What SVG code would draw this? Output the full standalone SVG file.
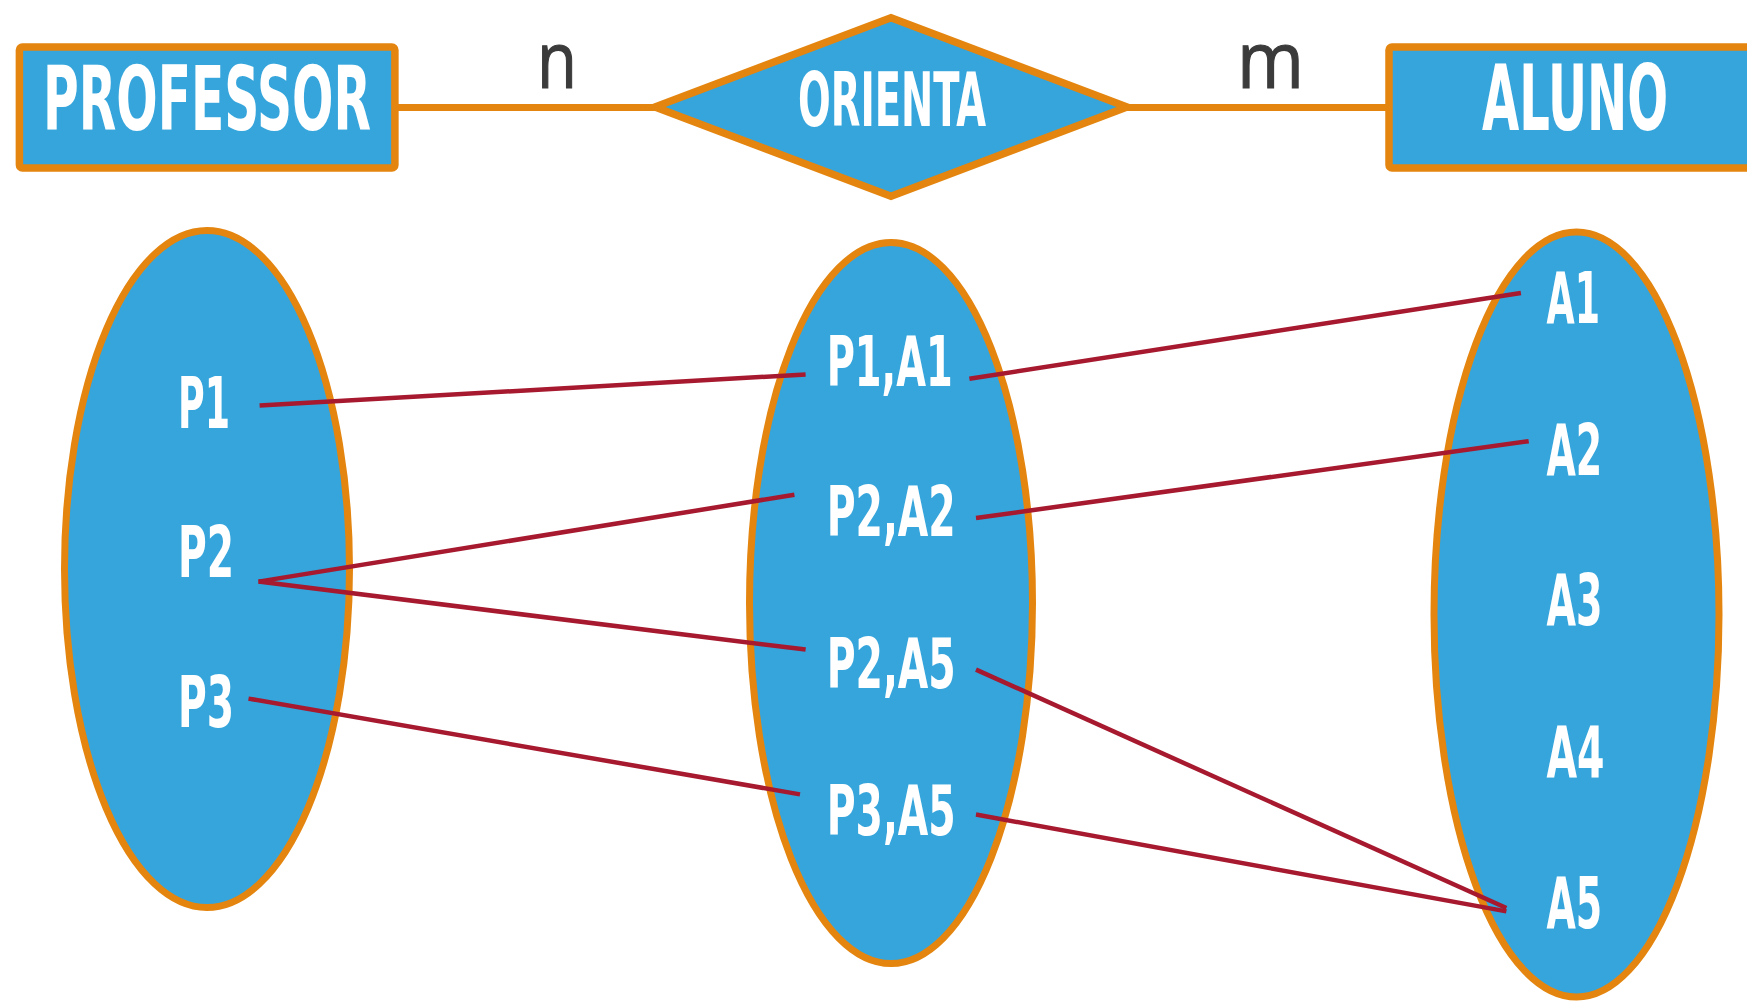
<svg xmlns="http://www.w3.org/2000/svg" width="1747" height="1003" viewBox="0 0 1747 1003">
<style>
.ent{fill:#35a5dc;stroke:#e4850f;stroke-width:7.5}
.set{fill:#35a5dc;stroke:#e4850f;stroke-width:7}
.rel{stroke:#e4850f;stroke-width:7;fill:none}
.map{stroke:#a6192e;stroke-width:4.5;fill:none}
.lbl{fill:#ffffff;font-family:"DejaVu Sans Condensed","DejaVu Sans","Liberation Sans",sans-serif;font-weight:bold}
.card{fill:#3b3b3b;stroke:#3b3b3b;stroke-width:1.2;font-family:"Open Sans","Liberation Sans",sans-serif}
</style>
<rect width="1747" height="1003" fill="#ffffff"/>
<g id="connectors">
<line class="rel" x1="398" y1="107.5" x2="656" y2="107.5"/>
<line class="rel" x1="1126" y1="107.5" x2="1390" y2="107.5"/>
</g>
<g id="card-n"><text class="card" x="537" y="88.3" font-size="78" textLength="40" lengthAdjust="spacingAndGlyphs">n</text></g>
<g id="card-m"><text class="card" x="1237" y="88.3" font-size="78" textLength="67" lengthAdjust="spacingAndGlyphs">m</text></g>
<g id="professor">
<rect class="ent" x="19.4" y="47" width="375.5" height="121" rx="3"/>
<text class="lbl" x="43" y="130" font-size="89" textLength="328" lengthAdjust="spacingAndGlyphs">PROFESSOR</text>
</g>
<g id="orienta">
<polygon class="ent" stroke-width="7" points="655,107 891,17.7 1127,107 891,196.3"/>
<text class="lbl" x="798" y="126" font-size="74" textLength="188" lengthAdjust="spacingAndGlyphs">ORIENTA</text>
</g>
<g id="aluno">
<rect class="ent" x="1389" y="47" width="420" height="121" rx="3"/>
<text class="lbl" x="1482" y="130" font-size="90" textLength="186" lengthAdjust="spacingAndGlyphs">ALUNO</text>
</g>
<g id="set-professor">
<ellipse class="set" cx="207" cy="569" rx="142.5" ry="338.5"/>
</g>
<g id="set-orienta">
<ellipse class="set" cx="891" cy="603" rx="141.5" ry="360.5"/>
</g>
<g id="set-aluno">
<ellipse class="set" cx="1576.5" cy="614.5" rx="142.5" ry="382.5"/>
</g>
<g id="mapping-connectors">
<line class="map" x1="259.6" y1="405.6" x2="805.6" y2="374.4"/>
<line class="map" x1="969.4" y1="378.8" x2="1520.9" y2="293"/>
<line class="map" x1="258.5" y1="581.6" x2="794.4" y2="494.7"/>
<line class="map" x1="258.5" y1="581.6" x2="805.6" y2="649.6"/>
<line class="map" x1="976" y1="518" x2="1528.7" y2="441.2"/>
<line class="map" x1="976" y1="669.6" x2="1506.4" y2="908"/>
<line class="map" x1="248.5" y1="698.6" x2="800" y2="794.4"/>
<line class="map" x1="976" y1="814.5" x2="1506.4" y2="911.4"/>
</g>
<g id="p1"><text class="lbl" x="178" y="427.5" font-size="72" textLength="52" lengthAdjust="spacingAndGlyphs">P1</text></g>
<g id="p2"><text class="lbl" x="178" y="576.5" font-size="72" textLength="56" lengthAdjust="spacingAndGlyphs">P2</text></g>
<g id="p3"><text class="lbl" x="178" y="726.5" font-size="72" textLength="56" lengthAdjust="spacingAndGlyphs">P3</text></g>
<g id="p1a1"><text class="lbl" x="826.7" y="385.5" font-size="70" textLength="126" lengthAdjust="spacingAndGlyphs">P1,A1</text></g>
<g id="p2a2"><text class="lbl" x="826.7" y="536" font-size="70" textLength="129" lengthAdjust="spacingAndGlyphs">P2,A2</text></g>
<g id="p2a5"><text class="lbl" x="826.7" y="687.5" font-size="70" textLength="129" lengthAdjust="spacingAndGlyphs">P2,A5</text></g>
<g id="p3a5"><text class="lbl" x="826.7" y="835" font-size="70" textLength="129" lengthAdjust="spacingAndGlyphs">P3,A5</text></g>
<g id="a1"><text class="lbl" x="1546.5" y="323" font-size="72" textLength="53.5" lengthAdjust="spacingAndGlyphs">A1</text></g>
<g id="a2"><text class="lbl" x="1546.5" y="474.5" font-size="72" textLength="55.7" lengthAdjust="spacingAndGlyphs">A2</text></g>
<g id="a3"><text class="lbl" x="1546.5" y="625" font-size="72" textLength="56" lengthAdjust="spacingAndGlyphs">A3</text></g>
<g id="a4"><text class="lbl" x="1546.5" y="776.5" font-size="72" textLength="58" lengthAdjust="spacingAndGlyphs">A4</text></g>
<g id="a5"><text class="lbl" x="1546.5" y="928" font-size="72" textLength="55.7" lengthAdjust="spacingAndGlyphs">A5</text></g>
</svg>
